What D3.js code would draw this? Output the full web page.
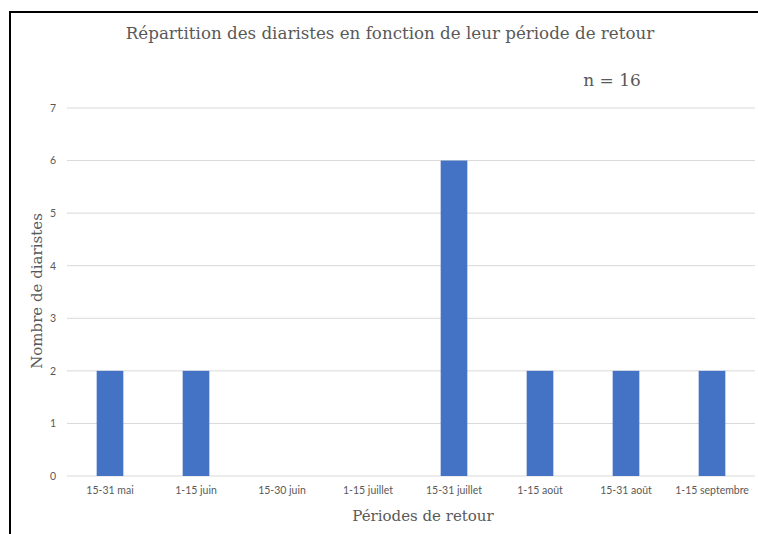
<html>
<head>
<meta charset="utf-8">
<title>Répartition des diaristes</title>
<style>
  body { margin: 0; background: #fff; }
  svg text { fill: #595959; }
</style>
</head>
<body>
<svg width="758" height="534"></svg>
<script src="https://d3js.org/d3.v7.min.js"></script>
<script>
var periods = ["15-31 mai", "1-15 juin", "15-30 juin", "1-15 juillet", "15-31 juillet", "1-15 août", "15-31 août", "1-15 septembre"];
var counts = [2, 2, 0, 0, 6, 2, 2, 2];
var yTicks = [0, 1, 2, 3, 4, 5, 6, 7];

var svg = d3.select("svg");

// frame
svg.append("rect")
  .attr("x", 10).attr("y", 12)
  .attr("width", 760).attr("height", 540)
  .attr("fill", "none").attr("stroke", "#000").attr("stroke-width", 2);

var plotLeft = 67, plotRight = 755, plotTop = 108, plotBottom = 476;

var x = d3.scaleBand().domain(periods).range([plotLeft, plotRight]).paddingInner(0.69).paddingOuter(0.345);
var y = d3.scaleLinear().domain([0, 7]).range([plotBottom, plotTop]);

// gridlines
svg.append("g")
  .selectAll("line")
  .data(yTicks)
  .join("line")
  .attr("x1", plotLeft).attr("x2", plotRight)
  .attr("y1", function(d) { return y(d); })
  .attr("y2", function(d) { return y(d); })
  .attr("stroke", "#d9d9d9").attr("stroke-width", 1);

// bars
svg.append("g")
  .selectAll("rect")
  .data(counts)
  .join("rect")
  .attr("x", function(d, i) { return x(periods[i]); })
  .attr("y", function(d) { return y(d); })
  .attr("width", x.bandwidth())
  .attr("height", function(d) { return y(0) - y(d); })
  .attr("fill", "#4472c4");

// y axis labels
var yAxis = svg.append("g")
  .attr("transform", "translate(" + (plotLeft - 11) + ",0)")
  .call(d3.axisLeft(y).tickValues(yTicks).tickFormat(d3.format("d")).tickSize(0).tickPadding(0));
yAxis.select(".domain").remove();
yAxis.selectAll("text")
  .attr("font-family", "Lato, 'Open Sans', sans-serif")
  .attr("font-size", 10.5)
  .style("fill", "#595959");

// x axis labels
var xBand = d3.scaleBand().domain(periods).range([plotLeft, plotRight]);
var xAxis = svg.append("g")
  .attr("transform", "translate(0," + (plotBottom + 11) + ")")
  .call(d3.axisBottom(xBand).tickSize(0).tickPadding(0));
xAxis.select(".domain").remove();
xAxis.selectAll("text")
  .attr("font-family", "Lato, 'Open Sans', sans-serif")
  .attr("font-size", 10.5)
  .style("fill", "#595959");

// title
svg.append("text")
  .attr("x", 390).attr("y", 39)
  .attr("text-anchor", "middle")
  .attr("font-family", "'DejaVu Serif', serif")
  .attr("font-size", 16.7)
  .text("Répartition des diaristes en fonction de leur période de retour");

svg.append("text")
  .attr("x", 612).attr("y", 86)
  .attr("text-anchor", "middle")
  .attr("font-family", "'DejaVu Serif', serif")
  .attr("font-size", 17)
  .text("n = 16");

// axis titles
svg.append("text")
  .attr("transform", "translate(42,291) rotate(-90)")
  .attr("text-anchor", "middle")
  .attr("font-family", "'DejaVu Serif', serif")
  .attr("font-size", 15)
  .text("Nombre de diaristes");

svg.append("text")
  .attr("x", 423).attr("y", 521)
  .attr("text-anchor", "middle")
  .attr("font-family", "'DejaVu Serif', serif")
  .attr("font-size", 15)
  .text("Périodes de retour");
</script>
</body>
</html>
